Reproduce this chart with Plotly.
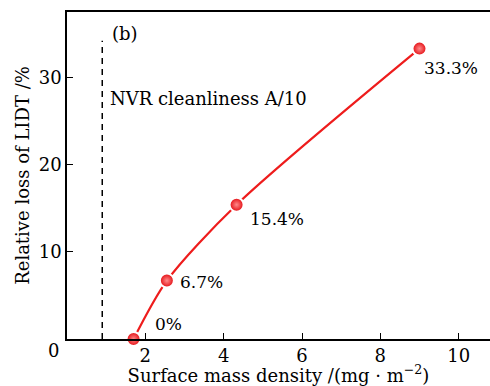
import plotly.graph_objects as go

density = [1.7, 2.55, 4.33, 9.0]
loss = [0.0, 6.7, 15.4, 33.3]
labels = ["0%", "6.7%", "15.4%", "33.3%"]
nvr_x = [0.9, 0.9]
nvr_y = [0, 34.2]
x_ticks = [2, 4, 6, 8, 10]
y_ticks = [10, 20, 30]

# label offsets in pixels (style)
label_dx = [19, 11, 11, 2]
label_dy = [15, -1, -14, -19]

FONT = "DejaVu Serif"
RED = "#ee1c1c"

fig = go.Figure()
fig.add_trace(go.Scatter(
    x=nvr_x, y=nvr_y, mode="lines",
    line=dict(color="black", width=1.5, dash="6px,5px"),
    hoverinfo="skip", showlegend=False))
fig.add_trace(go.Scatter(
    x=density, y=loss, mode="lines",
    line=dict(color=RED, width=2.2, shape="spline", smoothing=0.8),
    showlegend=False))
fig.add_trace(go.Scatter(
    x=density, y=loss, mode="markers",
    marker=dict(size=14, color="#e3080e",
                gradient=dict(type="radial", color="#ff8a8a"),
                line=dict(color="white", width=2)),
    cliponaxis=False, showlegend=False))

for xv, yv, t, dx, dy in zip(density, loss, labels, label_dx, label_dy):
    fig.add_annotation(x=xv, y=yv, xref="x", yref="y", text=t, showarrow=False,
                       xanchor="left", yanchor="middle", xshift=dx, yshift=dy,
                       font=dict(family=FONT, size=17, color="black"))

fig.add_annotation(x=1.1, y=35.0, xref="x", yref="y", text="(b)", showarrow=False,
                   xanchor="left", yanchor="middle",
                   font=dict(family=FONT, size=18, color="black"))
fig.add_annotation(x=1.05, y=27.6, xref="x", yref="y", text="NVR cleanliness A/10",
                   showarrow=False, xanchor="left", yanchor="middle",
                   font=dict(family=FONT, size=18, color="black"))
fig.add_annotation(x=-0.033, y=-0.034, xref="paper", yref="paper", text="0",
                   showarrow=False, xanchor="center", yanchor="middle",
                   font=dict(family=FONT, size=18, color="black"))

fig.update_layout(
    width=490, height=386,
    margin=dict(l=67, r=0, t=12, b=47),
    plot_bgcolor="white", paper_bgcolor="white",
    font=dict(family=FONT, size=18, color="black"),
    xaxis=dict(range=[0, 10.8], tickvals=x_ticks, ticks="inside", ticklen=6,
               tickwidth=1.2, tickcolor="black", showline=True, linecolor="black",
               linewidth=1.5, mirror=True, showgrid=False, zeroline=False,
               tickfont=dict(family=FONT, size=18),
               title=dict(text="Surface mass density /(mg · m<sup>−2</sup>)",
                          font=dict(family=FONT, size=18), standoff=0)),
    yaxis=dict(range=[0, 37.5], tickvals=y_ticks, ticks="inside", ticklen=6,
               tickwidth=1.2, tickcolor="black", showline=True, linecolor="black",
               linewidth=1.5, showgrid=False, zeroline=False,
               tickfont=dict(family=FONT, size=18),
               title=dict(text="Relative loss of LIDT /%",
                          font=dict(family=FONT, size=18), standoff=4)),
)

fig.write_html("out.html")
